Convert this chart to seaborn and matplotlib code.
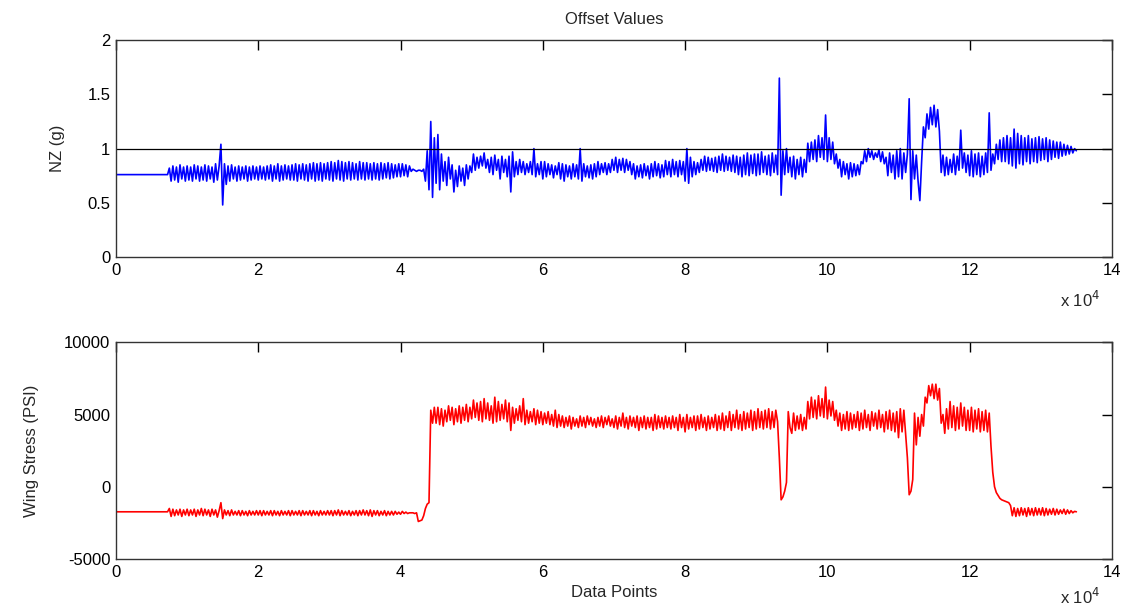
import numpy as np
import pandas as pd
import seaborn as sns
import matplotlib
matplotlib.use("Agg")
import matplotlib.pyplot as plt

# -----------------------------
# DATA (one value every 250 data points,
# each row below covers 5000 data points)
# -----------------------------
SAMPLE_STEP = 250

nz_values = [
    0.76, 0.76, 0.76, 0.76, 0.76, 0.76, 0.76, 0.76, 0.76, 0.76, 0.76, 0.76, 0.76, 0.76, 0.76, 0.76, 0.76, 0.76, 0.76, 0.76,
    0.76, 0.76, 0.76, 0.76, 0.76, 0.76, 0.76, 0.76, 0.76, 0.76, 0.82, 0.70, 0.84, 0.71, 0.83, 0.69, 0.85, 0.72, 0.83, 0.70,
    0.84, 0.71, 0.83, 0.70, 0.85, 0.72, 0.84, 0.70, 0.83, 0.71, 0.85, 0.70, 0.84, 0.72, 0.83, 0.69, 0.86, 0.71, 0.84, 1.04,
    0.48, 0.86, 0.67, 0.84, 0.70, 0.85, 0.72, 0.83, 0.70, 0.84, 0.71, 0.83, 0.72, 0.84, 0.70, 0.83, 0.71, 0.84, 0.72, 0.83,
    0.71, 0.84, 0.72, 0.83, 0.71, 0.84, 0.72, 0.85, 0.70, 0.84, 0.72, 0.86, 0.70, 0.84, 0.71, 0.85, 0.72, 0.84, 0.71, 0.85,
    0.71, 0.86, 0.70, 0.85, 0.72, 0.86, 0.71, 0.85, 0.70, 0.86, 0.72, 0.87, 0.70, 0.86, 0.71, 0.87, 0.70, 0.86, 0.72, 0.87,
    0.71, 0.88, 0.70, 0.87, 0.72, 0.89, 0.71, 0.88, 0.70, 0.87, 0.72, 0.88, 0.71, 0.87, 0.72, 0.86, 0.71, 0.88, 0.72, 0.87,
    0.71, 0.87, 0.72, 0.86, 0.71, 0.87, 0.72, 0.86, 0.71, 0.87, 0.72, 0.86, 0.73, 0.87, 0.72, 0.86, 0.73, 0.85, 0.74, 0.86,
    0.74, 0.86, 0.75, 0.85, 0.74, 0.84, 0.79, 0.81, 0.80, 0.79, 0.80, 0.80, 0.79, 0.81, 0.70, 0.98, 0.62, 1.25, 0.55, 1.10,
    0.68, 1.13, 0.62, 0.95, 0.70, 0.88, 0.66, 0.92, 0.72, 0.85, 0.60, 0.80, 0.65, 0.84, 0.70, 0.82, 0.66, 0.85, 0.72, 0.84,
    0.78, 0.95, 0.80, 0.92, 0.82, 0.93, 0.84, 0.96, 0.82, 0.90, 0.78, 0.92, 0.76, 0.94, 0.80, 0.90, 0.72, 0.93, 0.78, 0.90,
    0.74, 0.93, 0.60, 0.97, 0.74, 0.88, 0.76, 0.90, 0.78, 0.88, 0.76, 0.86, 0.78, 0.88, 0.76, 1.00, 0.74, 0.86, 0.76, 0.88,
    0.72, 0.88, 0.74, 0.86, 0.76, 0.85, 0.73, 0.84, 0.76, 0.87, 0.72, 0.86, 0.70, 0.85, 0.74, 0.84, 0.72, 0.86, 0.74, 0.85,
    0.72, 1.00, 0.70, 0.86, 0.74, 0.84, 0.73, 0.85, 0.72, 0.86, 0.74, 0.88, 0.76, 0.86, 0.78, 0.87, 0.76, 0.86, 0.78, 0.90,
    0.80, 0.92, 0.78, 0.90, 0.80, 0.91, 0.78, 0.90, 0.80, 0.88, 0.76, 0.86, 0.72, 0.84, 0.74, 0.85, 0.73, 0.86, 0.75, 0.84,
    0.72, 0.86, 0.74, 0.88, 0.75, 0.86, 0.73, 0.85, 0.74, 0.89, 0.76, 0.88, 0.74, 0.90, 0.76, 0.88, 0.74, 0.89, 0.76, 0.88,
    0.70, 1.00, 0.68, 0.92, 0.74, 0.88, 0.76, 0.87, 0.78, 0.90, 0.80, 0.93, 0.79, 0.92, 0.80, 0.91, 0.79, 0.92, 0.78, 0.93,
    0.80, 0.95, 0.79, 0.93, 0.80, 0.92, 0.79, 0.94, 0.78, 0.93, 0.76, 0.92, 0.74, 0.94, 0.76, 0.96, 0.75, 0.94, 0.77, 0.95,
    0.75, 0.95, 0.76, 0.97, 0.78, 0.93, 0.76, 0.94, 0.75, 0.96, 0.78, 0.94, 0.76, 1.65, 0.57, 0.98, 0.76, 1.00, 0.78, 0.92,
    0.74, 0.93, 0.72, 0.90, 0.76, 0.92, 0.74, 0.90, 0.78, 1.05, 0.88, 1.06, 0.90, 1.08, 0.88, 1.12, 0.92, 1.10, 0.90, 1.31,
    0.88, 1.10, 0.90, 1.06, 0.86, 0.95, 0.82, 0.90, 0.74, 0.88, 0.76, 0.86, 0.72, 0.87, 0.74, 0.86, 0.75, 0.85, 0.76, 0.88,
    0.86, 0.98, 0.88, 1.00, 0.92, 0.98, 0.90, 0.96, 0.92, 0.99, 0.88, 0.97, 0.86, 0.92, 0.75, 0.96, 0.78, 0.94, 0.72, 0.98,
    0.74, 1.00, 0.72, 0.96, 0.78, 0.95, 1.46, 0.53, 0.98, 0.72, 0.94, 0.70, 0.52, 0.88, 1.20, 1.10, 1.32, 1.18, 1.38, 1.22,
    1.40, 1.20, 1.36, 1.16, 0.78, 0.94, 0.75, 0.92, 0.76, 0.90, 0.78, 0.95, 0.76, 0.93, 0.80, 1.17, 0.82, 0.96, 0.78, 0.94,
    0.75, 0.98, 0.74, 0.95, 0.76, 0.96, 0.74, 0.93, 0.76, 0.96, 0.78, 1.33, 0.80, 0.95, 0.86, 1.04, 0.90, 1.08, 0.88, 1.10,
    0.88, 1.12, 0.86, 1.10, 0.84, 1.18, 0.82, 1.14, 0.86, 1.12, 0.85, 1.10, 0.88, 1.12, 0.86, 1.09, 0.88, 1.10, 0.87, 1.11,
    0.89, 1.09, 0.90, 1.10, 0.88, 1.08, 0.90, 1.07, 0.92, 1.06, 0.91, 1.06, 0.93, 1.04, 0.94, 1.03, 0.95, 1.02, 0.96, 1.00,
    0.98,
]

stress_values = [
    -1730, -1730, -1730, -1730, -1730, -1730, -1730, -1730, -1730, -1730, -1730, -1730, -1730, -1730, -1730, -1730, -1730, -1730, -1730, -1730,
    -1730, -1730, -1730, -1730, -1730, -1730, -1730, -1730, -1730, -1730, -1500, -2050, -1550, -2000, -1600, -1950, -1550, -2050, -1600, -1950,
    -1550, -2000, -1600, -1950, -1550, -2050, -1600, -1950, -1500, -2000, -1550, -1950, -1600, -2050, -1550, -1950, -1600, -2100, -1650, -1100,
    -2200, -1600, -1950, -1650, -2000, -1600, -1950, -1700, -1950, -1650, -2000, -1650, -1950, -1700, -2000, -1650, -1950, -1700, -1950, -1650,
    -1950, -1650, -2000, -1650, -1950, -1700, -1950, -1650, -2000, -1650, -1950, -1700, -2000, -1650, -1950, -1700, -1950, -1650, -2000, -1650,
    -1950, -1700, -1950, -1650, -2000, -1650, -1950, -1700, -1950, -1650, -2000, -1650, -1950, -1700, -2000, -1650, -1950, -1700, -1950, -1650,
    -1950, -1650, -2000, -1650, -1950, -1600, -2000, -1650, -1950, -1700, -1950, -1650, -2000, -1700, -1950, -1650, -2000, -1650, -1950, -1600,
    -1950, -1650, -2000, -1600, -2050, -1650, -1950, -1650, -2000, -1700, -1950, -1650, -2000, -1700, -1950, -1700, -1950, -1700, -1900, -1750,
    -1900, -1700, -1850, -1750, -1850, -1800, -1800, -1800, -1850, -1800, -2400, -2350, -2300, -2000, -1500, -1200, -1100, 5300, 4400, 5500,
    4400, 5500, 4300, 5400, 4200, 5300, 4500, 5600, 4600, 5500, 4300, 5400, 4500, 5600, 4400, 5500, 4600, 5700, 4500, 5500,
    4700, 6000, 4800, 5800, 4600, 5900, 4500, 6100, 4700, 5800, 4600, 5600, 4400, 6200, 4500, 5900, 4600, 5700, 4700, 6000,
    4500, 5800, 3900, 5500, 4400, 5400, 4600, 5600, 4500, 6100, 4300, 5300, 4400, 5200, 4500, 5400, 4300, 5300, 4400, 5200,
    4300, 5100, 4400, 5200, 4300, 5000, 4200, 5300, 4100, 5000, 4200, 4900, 4100, 4800, 4200, 4900, 4000, 4800, 4200, 4700,
    4100, 4900, 4200, 4800, 4100, 4900, 4300, 4800, 4200, 4700, 4100, 4800, 4200, 4900, 4100, 4800, 4300, 4900, 4200, 4700,
    4100, 4900, 4000, 4800, 4200, 5100, 4100, 4800, 4000, 4900, 4200, 4800, 4100, 4900, 3900, 4800, 4100, 4900, 4000, 4800,
    4100, 4800, 3900, 5000, 4000, 4900, 4100, 4800, 4000, 4900, 4100, 4800, 4000, 4900, 4100, 4800, 3900, 5000, 4100, 4800,
    3800, 5000, 4000, 4800, 4100, 4900, 3900, 4900, 4000, 5000, 4100, 4800, 3900, 4900, 4000, 4800, 4100, 5000, 3900, 4900,
    4000, 5100, 3900, 4900, 4100, 5200, 3900, 5000, 4100, 5300, 4000, 5000, 3900, 5200, 4000, 5100, 4100, 5300, 3900, 5200,
    4000, 5400, 4100, 5200, 4000, 5300, 4100, 5400, 4000, 5200, 4100, 5300, 4500, 2000, -900, -700, -300, 300, 5200, 4100,
    3700, 5100, 3900, 4900, 4000, 5000, 3900, 4800, 4000, 5900, 4700, 6200, 4800, 6000, 4700, 6300, 4900, 6100, 4800, 6900,
    4700, 6000, 4900, 5900, 4600, 5300, 4200, 5100, 3900, 5000, 4000, 5200, 3900, 5100, 4000, 5000, 4100, 5200, 3900, 5100,
    4000, 5300, 4100, 5000, 3900, 5200, 4200, 5100, 4000, 5300, 4100, 5000, 3800, 5200, 4000, 5300, 3900, 5100, 3800, 5200,
    3400, 5400, 3800, 5300, 3700, 2000, -550, -300, 500, 5100, 2900, 4800, 3500, 5000, 4200, 6200, 5800, 7000, 6300, 7100,
    6100, 7100, 6000, 6800, 4400, 5000, 3700, 5400, 4000, 5900, 4100, 5600, 3900, 5500, 4000, 5800, 4200, 5500, 3900, 5300,
    3900, 5500, 3800, 5300, 4000, 5400, 3800, 5200, 3900, 5300, 3800, 5100, 2800, 1000, 0, -400, -600, -800, -900, -950,
    -1000, -1050, -1100, -1300, -2000, -1450, -2050, -1500, -2000, -1450, -1950, -1500, -2050, -1450, -1950, -1500, -2000, -1450, -1950, -1500,
    -1950, -1450, -2000, -1500, -1950, -1550, -1900, -1500, -1950, -1550, -1900, -1600, -1850, -1550, -1900, -1600, -1850, -1650, -1800, -1700,
    -1730,
]

x_ticks = [0, 20000, 40000, 60000, 80000, 100000, 120000, 140000]
x_tick_labels = ["0", "2", "4", "6", "8", "10", "12", "14"]
nz_ticks = [0, 0.5, 1, 1.5, 2]
nz_tick_labels = ["0", "0.5", "1", "1.5", "2"]
stress_ticks = [-5000, 0, 5000, 10000]
stress_tick_labels = ["-5000", "0", "5000", "10000"]


def style_axes(ax):
    # MATLAB-like box: inward ticks on every side
    for spine in ax.spines.values():
        spine.set_visible(True)
        spine.set_color("#333333")
        spine.set_linewidth(1.0)
    ax.tick_params(direction="in", length=7, width=1.0, top=True, right=True,
                   labelsize=12, colors="black", pad=4)
    ax.grid(False)


def main():
    sns.set_style("white")
    plt.rcParams["font.family"] = ["Liberation Sans", "DejaVu Sans"]

    assert len(nz_values) == len(stress_values)

    df = pd.DataFrame({
        "DataPoint": np.arange(len(nz_values)) * SAMPLE_STEP,
        "NZ": nz_values,
        "Stress": stress_values,
    })

    fig = plt.figure(figsize=(11.26, 6.09), dpi=100)
    ax_top = fig.add_axes([0.103, 0.578, 0.8845, 0.356])
    ax_bot = fig.add_axes([0.103, 0.082, 0.8845, 0.356])

    # Top panel: NZ
    sns.lineplot(data=df, x="DataPoint", y="NZ", ax=ax_top,
                 color="#0000ff", linewidth=1.2)
    ax_top.axhline(1.0, color="black", linewidth=0.9)
    ax_top.set_xlim(0, 140000)
    ax_top.set_ylim(0, 2)
    ax_top.set_xticks(x_ticks)
    ax_top.set_xticklabels(x_tick_labels)
    ax_top.set_yticks(nz_ticks)
    ax_top.set_yticklabels(nz_tick_labels)
    ax_top.set_xlabel("")
    ax_top.set_ylabel("NZ (g)", fontsize=12, labelpad=16)
    ax_top.set_title("Offset Values", fontsize=12, pad=12)
    style_axes(ax_top)

    # Bottom panel: wing stress
    sns.lineplot(data=df, x="DataPoint", y="Stress", ax=ax_bot,
                 color="#ff0000", linewidth=1.2)
    ax_bot.set_xlim(0, 140000)
    ax_bot.set_ylim(-5000, 10000)
    ax_bot.set_xticks(x_ticks)
    ax_bot.set_xticklabels(x_tick_labels)
    ax_bot.set_yticks(stress_ticks)
    ax_bot.set_yticklabels(stress_tick_labels)
    ax_bot.set_xlabel("Data Points", fontsize=12, labelpad=4)
    ax_bot.set_ylabel("Wing Stress (PSI)", fontsize=12, labelpad=18)
    style_axes(ax_bot)

    # exponent labels below each axes, MATLAB style
    fig.text(0.977, 0.507, r"x 10$^{4}$", ha="right", va="center", fontsize=12)
    fig.text(0.977, 0.008, r"x 10$^{4}$", ha="right", va="baseline", fontsize=12)

    fig.savefig("out.png", dpi=100)


if __name__ == "__main__":
    main()
